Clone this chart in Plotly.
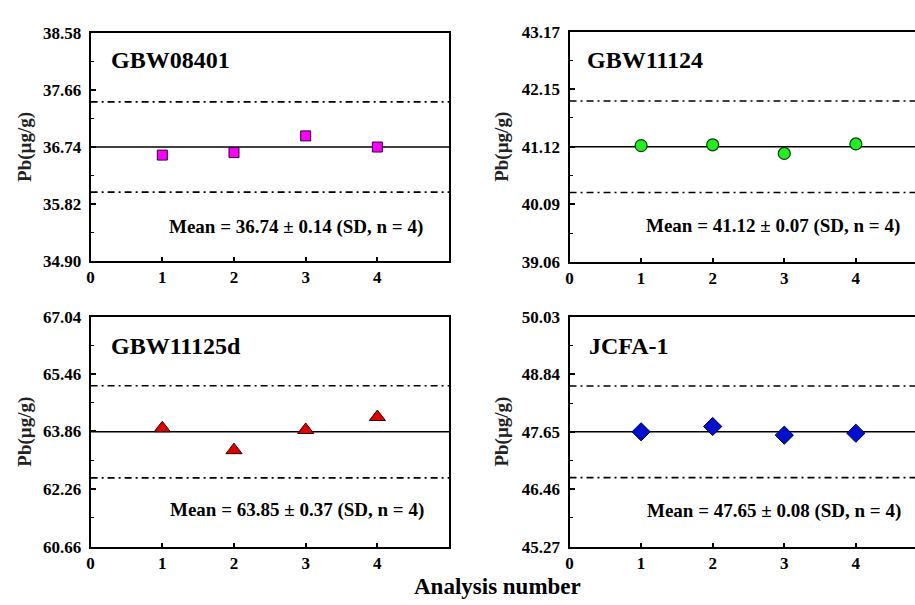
import plotly.graph_objects as go

# ---------------- data ----------------
samples = ["GBW08401", "GBW11124", "GBW11125d", "JCFA-1"]
analysis = [1, 2, 3, 4]
pb_gbw08401 = [36.61, 36.65, 36.92, 36.74]
pb_gbw11124 = [41.14, 41.155, 41.00, 41.17]
pb_gbw11125d = [63.95, 63.34, 63.90, 64.26]
pb_jcfa1 = [47.65, 47.76, 47.58, 47.62]
means = [36.74, 41.12, 63.85, 47.65]
sds = [0.14, 0.07, 0.37, 0.08]
upper = [37.47, 41.94, 65.13, 48.60]
lower = [36.01, 40.30, 62.57, 46.70]
yticks_gbw08401 = [34.90, 35.82, 36.74, 37.66, 38.58]
yticks_gbw11124 = [39.06, 40.09, 41.12, 42.15, 43.17]
yticks_gbw11125d = [60.66, 62.26, 63.86, 65.46, 67.04]
yticks_jcfa1 = [45.27, 46.46, 47.65, 48.84, 50.03]
ytick_text_gbw08401 = ["34.90", "35.82", "36.74", "37.66", "38.58"]
ytick_text_gbw11124 = ["39.06", "40.09", "41.12", "42.15", "43.17"]
ytick_text_gbw11125d = ["60.66", "62.26", "63.86", "65.46", "67.04"]
ytick_text_jcfa1 = ["45.27", "46.46", "47.65", "48.84", "50.03"]
xticks = [0, 1, 2, 3, 4]

values = [pb_gbw08401, pb_gbw11124, pb_gbw11125d, pb_jcfa1]
yticks = [yticks_gbw08401, yticks_gbw11124, yticks_gbw11125d, yticks_jcfa1]
yticktext = [ytick_text_gbw08401, ytick_text_gbw11124, ytick_text_gbw11125d, ytick_text_jcfa1]

# ---------------- styles ----------------
W, H = 915, 605
FONT = "Liberation Serif, Times New Roman, serif"
marker_styles = [
    dict(symbol="square", size=10, color="#FF00FF", line=dict(color="#300030", width=1)),
    dict(symbol="circle", size=12, color="#22EE22", line=dict(color="#0A400A", width=1.2)),
    dict(symbol="triangle-up", size=14, color="#E00000", line=dict(color="#300000", width=1)),
    dict(symbol="diamond", size=14, color="#0010D0", line=dict(color="#000040", width=1)),
]
# panel geometry in pixels: (left, right, top, bottom), x range max
panels = [
    (87, 447, 25, 260, 5.0),
    (568, 915, 24, 261, (915 - 568) / 71.9),
    (87, 447, 318, 555, 5.0),
    (568, 915, 318, 555, (915 - 568) / 71.9),
]
title_pos = [(105, 53), (584, 53), (105, 348), (586, 348)]
mean_pos = [(423, 225), (902, 224), (424, 517), (903, 518)]
ytitle_x = [21, 500, 21, 500]

fig = go.Figure()
layout = {}
annotations = []

for i in range(4):
    xa = "x" if i == 0 else f"x{i+1}"
    ya = "y" if i == 0 else f"y{i+1}"
    L, R, T, B, xmax = panels[i]
    # center and limit lines
    fig.add_trace(go.Scatter(x=[0, 5], y=[means[i], means[i]], mode="lines",
                             line=dict(color="black", width=1.6),
                             xaxis=xa, yaxis=ya, showlegend=False, hoverinfo="skip"))
    for lim in (upper[i], lower[i]):
        fig.add_trace(go.Scatter(x=[0, 5], y=[lim, lim], mode="lines",
                                 line=dict(color="black", width=1.6, dash="7px,4px,2px,4px"),
                                 xaxis=xa, yaxis=ya, showlegend=False, hoverinfo="skip"))
    fig.add_trace(go.Scatter(x=analysis, y=values[i], mode="markers",
                             marker=marker_styles[i], xaxis=xa, yaxis=ya,
                             showlegend=False, cliponaxis=False))

    yt = yticks[i]
    minor_vals = [(yt[k] + yt[k + 1]) / 2 for k in range(len(yt) - 1)]
    xkey = "xaxis" if i == 0 else f"xaxis{i+1}"
    ykey = "yaxis" if i == 0 else f"yaxis{i+1}"
    layout[xkey] = dict(
        domain=[L / W, R / W], range=[0, xmax], anchor=ya,
        tickmode="array", tickvals=xticks, ticktext=[str(v) for v in xticks],
        ticks="inside", ticklen=4, tickwidth=1.5, tickcolor="black",
        showline=True, linecolor="black", linewidth=2, mirror=True,
        showgrid=False, zeroline=False,
        tickfont=dict(family=FONT, size=17, color="black", weight="bold"),
    )
    layout[ykey] = dict(
        domain=[1 - B / H, 1 - T / H], range=[yt[0], yt[-1]], anchor=xa,
        tickmode="array", tickvals=yt, ticktext=yticktext[i],
        ticks="inside", ticklen=5, tickwidth=1.5, tickcolor="black",
        minor=dict(tickmode="array", tickvals=minor_vals, ticks="inside", ticklen=3,
                   tickwidth=1.2, tickcolor="black"),
        showline=True, linecolor="black", linewidth=2,
        mirror=(i in (0, 2)),
        showgrid=False, zeroline=False, ticklabelstandoff=4,
        tickfont=dict(family=FONT, size=17, color="black", weight="bold"),
    )
    tx, ty = title_pos[i]
    annotations.append(dict(text=samples[i], x=tx / W, y=1 - ty / H, xref="paper", yref="paper",
                            xanchor="left", yanchor="middle", showarrow=False,
                            font=dict(family=FONT, size=24, color="black", weight="bold")))
    mx, my = mean_pos[i]
    annotations.append(dict(text=f"Mean = {means[i]:.2f} ± {sds[i]:.2f} (SD, n = {len(values[i])})",
                            x=mx / W, y=1 - my / H, xref="paper", yref="paper",
                            xanchor="right", yanchor="middle", showarrow=False,
                            font=dict(family=FONT, size=19, color="black", weight="bold")))
    annotations.append(dict(text="Pb(µg/g)", x=ytitle_x[i] / W, y=1 - ((T + B) / 2) / H,
                            xref="paper", yref="paper", textangle=-90,
                            xanchor="center", yanchor="middle", showarrow=False,
                            font=dict(family=FONT, size=19, color="#222222", weight="bold")))

annotations.append(dict(text="Analysis number", x=496 / W, y=1 - 596 / H, xref="paper", yref="paper",
                        xanchor="center", yanchor="middle", showarrow=False, borderpad=0,
                        font=dict(family=FONT, size=23, color="black", weight="bold")))

fig.update_layout(
    width=W, height=H,
    margin=dict(l=0, r=0, t=0, b=0),
    paper_bgcolor="white", plot_bgcolor="white",
    annotations=annotations,
    **layout,
)
fig.write_html("out.html", config={"displayModeBar": False},
               post_script="document.body.style.margin='0';document.body.style.overflow='hidden';")
